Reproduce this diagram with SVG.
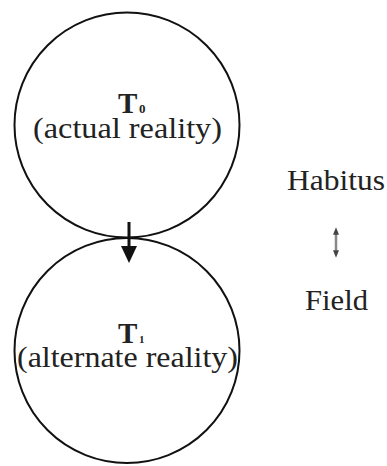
<svg xmlns="http://www.w3.org/2000/svg" width="387" height="466" viewBox="0 0 387 466">
<style>
.c{fill:none;stroke:#111;stroke-width:2}
.t{font-family:"Liberation Serif","Times New Roman",serif;font-size:29px;fill:#222}
.b{font-weight:bold}
.s{font-family:"Liberation Serif","Times New Roman",serif;font-weight:bold;fill:#222}
</style>
<defs>
<marker id="dh" viewBox="0 0 10 10" refX="5" refY="5" markerWidth="3" markerHeight="3" orient="auto-start-reverse">
<path d="M0,1 L10,5 L0,9 Z" fill="#444"/>
</marker>
</defs>
<rect width="387" height="466" fill="#fff"/>
<g id="t0">
<circle class="c" cx="127" cy="125" r="112.5"/>
<text class="t b" x="118" y="113">T</text>
<text class="s" x="139" y="113" font-size="13">0</text>
<text class="t" x="127.5" y="138" text-anchor="middle" textLength="189" lengthAdjust="spacingAndGlyphs">(actual reality)</text>
</g>
<g id="t1">
<circle class="c" cx="127" cy="350.5" r="112.5"/>
<text class="t b" x="118" y="343">T</text>
<text class="s" x="139" y="343" font-size="11">1</text>
<text class="t" x="127.5" y="367" text-anchor="middle" textLength="221" lengthAdjust="spacingAndGlyphs">(alternate reality)</text>
</g>
<g id="habitus">
<text class="t" x="287" y="190" textLength="98" lengthAdjust="spacingAndGlyphs">Habitus</text>
</g>
<g id="field">
<text class="t" x="305" y="310" textLength="63" lengthAdjust="spacingAndGlyphs">Field</text>
</g>
<g id="connectors">
<line x1="129" y1="222" x2="129" y2="250" stroke="#111" stroke-width="3"/>
<polygon points="121,246 137,246 129,263" fill="#111"/>
<line x1="336" y1="231" x2="336" y2="254" stroke="#888" stroke-width="2.5" marker-start="url(#dh)" marker-end="url(#dh)"/>
</g>
</svg>
